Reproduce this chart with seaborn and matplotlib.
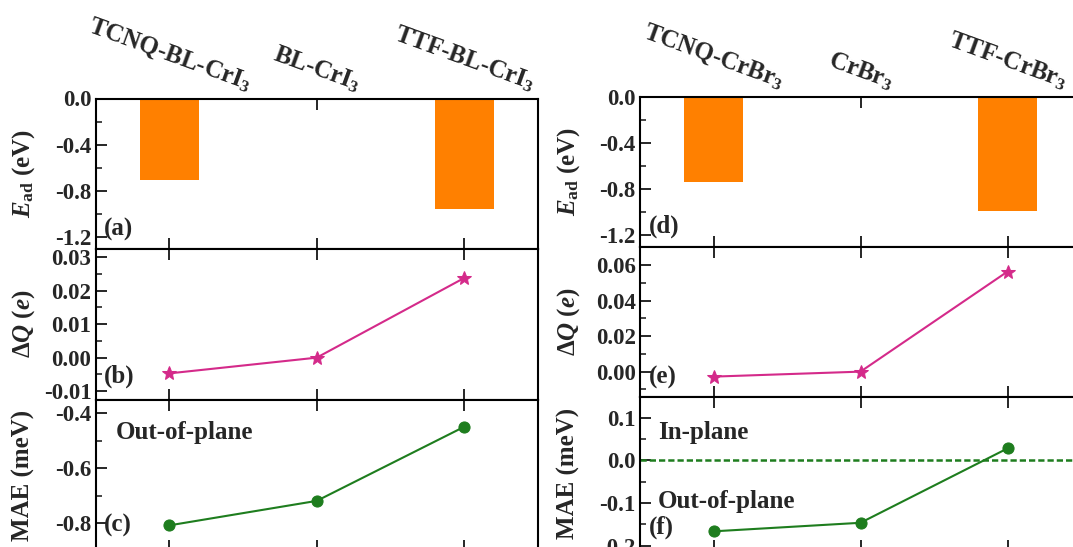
import numpy as np
import pandas as pd
import matplotlib
matplotlib.use("Agg")
import matplotlib.pyplot as plt
from matplotlib.ticker import MultipleLocator, AutoMinorLocator, FuncFormatter
import seaborn as sns

# ---------------- data ----------------
cats_left = ["TCNQ-BL-CrI$_3$", "BL-CrI$_3$", "TTF-BL-CrI$_3$"]
cats_right = ["TCNQ-CrBr$_3$", "CrBr$_3$", "TTF-CrBr$_3$"]

ead_left = [-0.71, 0.0, -0.96]
ead_right = [-0.74, 0.0, -0.99]

dq_left = [-0.0047, 0.0, 0.0238]
dq_right = [-0.0028, 0.0, 0.0563]

mae_left = [-0.807, -0.718, -0.449]
mae_right = [-0.166, -0.146, 0.028]

# ---------------- style ----------------
sns.set_style("ticks")
plt.rcParams["font.family"] = ["Liberation Serif", "DejaVu Serif"]
plt.rcParams["font.weight"] = "bold"
plt.rcParams["axes.labelweight"] = "bold"
plt.rcParams["mathtext.fontset"] = "custom"
plt.rcParams["mathtext.rm"] = "Liberation Serif:bold"
plt.rcParams["mathtext.bf"] = "Liberation Serif:bold"
plt.rcParams["mathtext.it"] = "Liberation Serif:italic:bold"
plt.rcParams["axes.unicode_minus"] = False

ORANGE = "#FF8000"
MAGENTA = "#D42A8A"
GREEN = "#1E7D1E"
FS = 18       # text / labels
TFS = 16.5    # tick labels

W, H = 1073, 547
fig = plt.figure(figsize=(W / 100, H / 100), dpi=100)

def add_ax(x0, x1, y0, y1):
    return fig.add_axes([x0 / W, (H - y1) / H, (x1 - x0) / W, (y1 - y0) / H])

def fmt(nd):
    def f(v, pos):
        if abs(v) < 1e-9:
            v = 0.0
        return f"{v:.{nd}f}"
    return FuncFormatter(f)

def style_ax(ax, step, nd, ylim):
    ax.set_xlim(-0.5, 2.5)
    ax.set_ylim(*ylim)
    ax.set_xticks(range(3))
    ax.yaxis.set_major_locator(MultipleLocator(step))
    ax.yaxis.set_minor_locator(AutoMinorLocator(2))
    ax.yaxis.set_major_formatter(fmt(nd))
    ax.tick_params(axis="both", which="major", direction="in", length=8, width=1.4,
                   top=True, bottom=True, left=True, right=False, labelsize=TFS, pad=3)
    ax.tick_params(axis="y", which="minor", direction="in", length=4, width=1.2, right=False)
    ax.tick_params(axis="x", labelbottom=False)
    for s in ax.spines.values():
        s.set_linewidth(1.5)
        s.set_color("black")
    for lab in ax.get_yticklabels():
        lab.set_fontweight("bold")
    ax.set_xlabel("")

panels = [
    dict(cats=cats_left, ead=ead_left, dq=dq_left, mae=mae_left, col=(95.5, 538),
         rows=[(98.5, 248.5), (248.5, 399.5), (399.5, 551)],
         dq_lim=(-0.0125, 0.0326), dq_step=0.01, mae_lim=(-0.9, -0.35), mae_step=0.2,
         letters=("(a)", "(b)", "(c)"), lpos=[-1.137, -0.0057, -0.807]),
    dict(cats=cats_right, ead=ead_right, dq=dq_right, mae=mae_right, col=(640, 1081),
         rows=[(96.7, 246.7), (246.7, 396.7), (396.7, 551)],
         dq_lim=(-0.0141, 0.0703), dq_step=0.02, mae_lim=(-0.212, 0.149), mae_step=0.1,
         letters=("(d)", "(e)", "(f)"), lpos=[-1.127, -0.003, -0.156]),
]

for i, p in enumerate(panels):
    x0, x1 = p["col"]
    axa = add_ax(x0, x1, *p["rows"][0])
    axb = add_ax(x0, x1, *p["rows"][1])
    axc = add_ax(x0, x1, *p["rows"][2])
    pos = np.arange(len(p["cats"]))

    # adsorption energy bars
    df = pd.DataFrame({"cat": p["cats"], "val": p["ead"]})
    sns.barplot(data=df, x="cat", y="val", order=p["cats"], color=ORANGE, saturation=1,
                width=0.4, ax=axa, linewidth=0)
    style_ax(axa, 0.4, 1, (-1.3, 0.0))
    axa.set_xticks(range(3))
    axa.set_xticklabels(p["cats"], rotation=-20, fontsize=FS, fontweight="bold")
    axa.tick_params(axis="x", labeltop=True, labelbottom=False, pad=2)
    axa.set_ylabel(r"$E_{\rm ad}$ (eV)", fontsize=FS, fontweight="bold", va="center")

    # charge transfer
    sns.lineplot(x=pos, y=p["dq"], ax=axb, color=MAGENTA, marker="*", markersize=10,
                 markeredgecolor=MAGENTA, linewidth=1.5)
    style_ax(axb, p["dq_step"], 2, p["dq_lim"])
    axb.set_ylabel(r"$\Delta Q$ ($e$)", fontsize=FS, fontweight="bold", va="center")

    # MAE
    sns.lineplot(x=pos, y=p["mae"], ax=axc, color=GREEN, marker="o", markersize=8,
                 markeredgecolor=GREEN, linewidth=1.5)
    style_ax(axc, p["mae_step"], 1, p["mae_lim"])
    axc.set_ylabel("MAE (meV)", fontsize=FS, fontweight="bold", va="center")

    for ax in (axa, axb, axc):
        ax.yaxis.set_label_coords(-0.162, 0.5)

    for ax, letter, ly in zip((axa, axb, axc), p["letters"], p["lpos"]):
        ax.text(-0.44, ly, letter, fontsize=FS, fontweight="bold", ha="left", va="center")

    if i == 0:
        axc.text(-0.36, -0.47, "Out-of-plane", fontsize=FS, fontweight="bold", ha="left", va="center")
    else:
        axc.axhline(0.0, color=GREEN, linestyle="--", linewidth=1.8, dashes=(2.5, 1.2), zorder=1)
        axc.text(-0.38, 0.065, "In-plane", fontsize=FS, fontweight="bold", ha="left", va="center")
        axc.text(-0.38, -0.096, "Out-of-plane", fontsize=FS, fontweight="bold", ha="left", va="center")

fig.savefig("out.png", dpi=100)
